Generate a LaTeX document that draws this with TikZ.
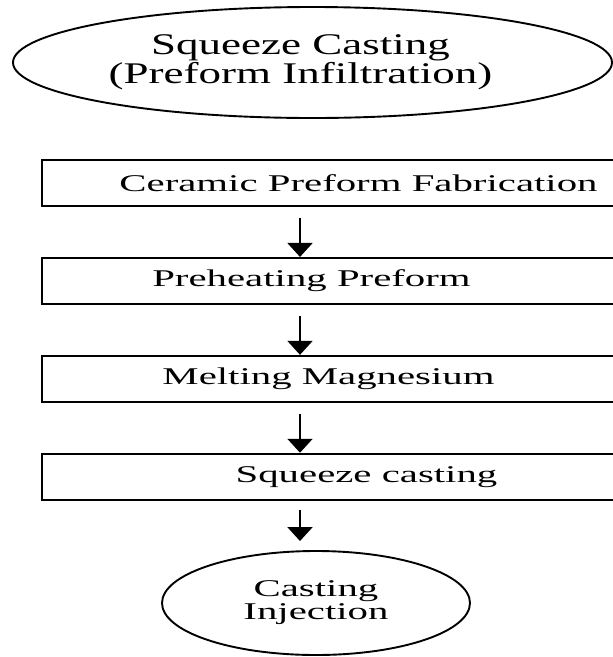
\documentclass[tikz,border=0pt]{standalone}
\usepackage{fontspec}
\setmainfont{Liberation Serif}
\newfontfamily\stepfont{Liberation Serif}[FakeStretch=1.7]
\newfontfamily\ovalfont{Liberation Serif}[FakeStretch=1.5]
\usetikzlibrary{arrows.meta,positioning,shapes.geometric}

\begin{document}
\begin{tikzpicture}[
  x=1pt,y=1pt,
  stepbox/.style={draw,line width=1.9pt,minimum width=573pt,minimum height=46pt,
                  inner sep=0pt,font=\stepfont\fontsize{24}{24}\selectfont},
  oval/.style={draw,ellipse,line width=1.9pt,inner sep=0pt,align=center},
  flow/.style={-{Triangle[length=14pt,width=25pt]},line width=2pt},
]
\useasboundingbox (0,0) rectangle (613,-657);
\coordinate (col) at (300,0);

% route name
\node[oval,minimum width=599pt,minimum height=111pt,
      font=\ovalfont\fontsize{30}{29}\selectfont] (route) at (312.5,-62.5)
      {Squeeze Casting\hspace*{24pt}\\(Preform Infiltration)\hspace*{24pt}};

% process steps
\node[stepbox] (fab) at (328.5,-183) {\hspace*{60pt}Ceramic Preform Fabrication};
\node[stepbox,below=50pt of fab] (heat) {Preheating Preform\hspace*{34pt}};
\node[stepbox,below=50pt of heat] (melt) {Melting Magnesium};
\node[stepbox,below=50pt of melt] (sqz) {\hspace*{76pt}Squeeze casting};

% end of the route
\node[oval,minimum width=308pt,minimum height=104pt,
      font=\stepfont\fontsize{24}{23}\selectfont] (inj) at (316,-603)
      {Casting\\Injection};

\draw[flow,shorten <=11pt] (fab.south -| col) -- (heat.north -| col);
\draw[flow,shorten <=11pt] (heat.south -| col) -- (melt.north -| col);
\draw[flow,shorten <=11pt] (melt.south -| col) -- (sqz.north -| col);
\draw[flow,shorten <=9pt,shorten >=9pt] (sqz.south -| col) -- (inj.north -| col);
\end{tikzpicture}
\end{document}
